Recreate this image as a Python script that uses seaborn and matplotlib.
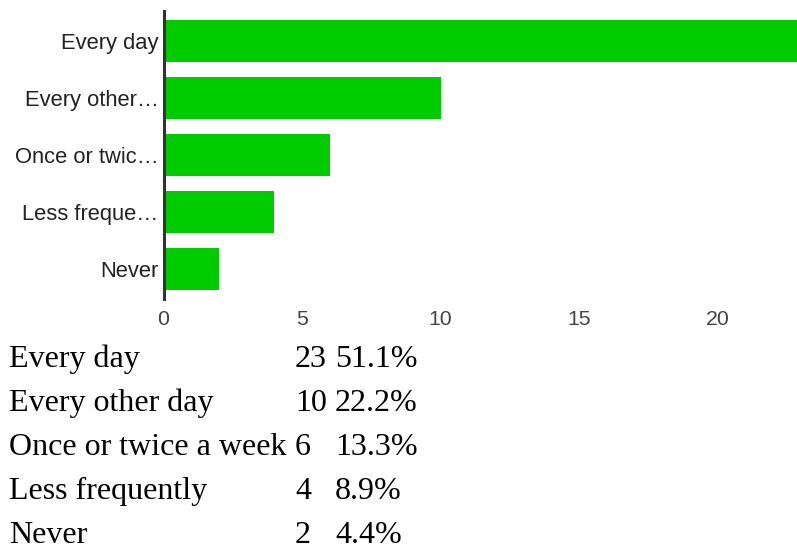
import matplotlib
matplotlib.use("Agg")
import matplotlib.pyplot as plt
import seaborn as sns
import pandas as pd

# Survey answers and response counts
answers = ["Every day", "Every other day", "Once or twice a week",
           "Less frequently", "Never"]
axis_labels = ["Every day", "Every other…", "Once or twic…",
               "Less freque…", "Never"]
counts = [23, 10, 6, 4, 2]
x_ticks = [0, 5, 10, 15, 20]

total = sum(counts)
percents = [f"{100 * c / total:.1f}%" for c in counts]

sns.set_style("white")
plt.rcParams["font.family"] = ["Liberation Sans", "DejaVu Sans"]

W, H = 797, 550
fig = plt.figure(figsize=(W / 100, H / 100), dpi=100)

# plot area in pixel terms
x0_px, top_px, bottom_px = 163.5, 11, 299
px_per_unit = 27.7
ax = fig.add_axes([x0_px / W, (H - bottom_px) / H,
                   (W - x0_px) / W, (bottom_px - top_px) / H])

df = pd.DataFrame({"answer": axis_labels, "count": counts})
sns.barplot(data=df, x="count", y="answer", order=axis_labels,
            color="#00cc00", saturation=1, width=0.72, linewidth=0, ax=ax)

ax.set_xlim(0, (W - x0_px) / px_per_unit)
ax.set_ylim(len(counts) - 1 + 0.526, -0.526)
ax.set_xticks(x_ticks)
ax.set_xlabel("")
ax.set_ylabel("")

for side in ("top", "right", "bottom"):
    ax.spines[side].set_visible(False)
ax.spines["left"].set_color("#333333")
ax.spines["left"].set_linewidth(2.2)
ax.spines["left"].set_zorder(5)

ax.tick_params(axis="y", length=0, pad=3.5, labelsize=15.8, labelcolor="#222222")
ax.tick_params(axis="x", length=0, pad=8, labelsize=15.3, labelcolor="#444444")

# summary table underneath the chart
col_x = [9, 295, 335]
baselines = [367, 411, 455, 499, 543]
for name, cnt, pct, yb in zip(answers, counts, percents, baselines):
    for xp, txt in zip(col_x, [name, str(cnt), pct]):
        fig.text(xp / W, (H - yb) / H, txt, ha="left", va="baseline",
                 fontsize=23, color="black",
                 family=["Liberation Serif", "DejaVu Serif"])

fig.savefig("out.png", dpi=100)
